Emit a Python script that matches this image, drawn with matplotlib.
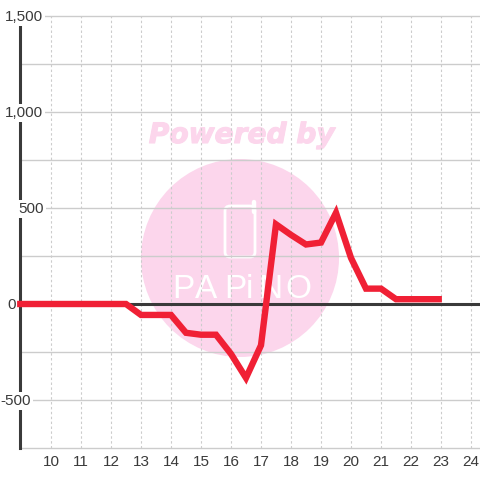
import matplotlib
matplotlib.use("Agg")
import matplotlib.pyplot as plt
import matplotlib.patheffects as pe
from matplotlib.patches import Circle, FancyBboxPatch

plt.rcParams['font.family'] = ['Liberation Sans', 'DejaVu Sans']

hours = [8.87, 9, 9.5, 10, 10.5, 11, 11.5, 12, 12.5, 13, 13.5, 14, 14.5, 15, 15.5, 16, 16.5,
         17, 17.5, 18, 18.5, 19, 19.5, 20, 20.5, 21, 21.5, 22, 22.5, 23.03]
values = [0, 0, 0, 0, 0, 0, 0, 0, 0, -57, -57, -57, -150, -160, -160, -260, -385,
          -215, 415, 360, 310, 320, 475, 240, 80, 80, 25, 25, 25, 25]
x_ticks = list(range(10, 25))
y_ticks = [-500, 0, 500, 1000, 1500]
y_minor = [-750, -250, 250, 750, 1250]
y_labels = ["-500", "0", "500", "1,000", "1,500"]
logo_letters = ["P", "A", "P", "i", "N", "O"]

# right edge of each y label in pixels, they do not line up in the reference
label_right = [31, 16, 44, 43, 43]
logo_x = [183, 206, 235, 249, 270, 298]

DARK = "#3a3a3a"
GRID = "#cccccc"
RED = "#f02035"
PINK = "#fcd6ec"

fig = plt.figure(figsize=(4.8, 4.8), dpi=100)

# watermark sits behind the chart, in pixel coordinates
bg = fig.add_axes([0, 0, 1, 1], zorder=0)
bg.set_xlim(0, 480)
bg.set_ylim(480, 0)
bg.axis("off")
bg.add_patch(Circle((240, 258), 99, color=PINK, lw=0))
bg.text(241.5, 135, "Powered by", color=PINK, fontsize=20.2, fontweight="bold", fontstyle="italic",
        family="DejaVu Sans", ha="center", va="center",
        path_effects=[pe.withStroke(linewidth=0.8, foreground=PINK)])
bg.add_patch(FancyBboxPatch((225, 206), 30, 51, boxstyle="round,pad=0,rounding_size=5",
                            fc="none", ec="white", lw=2.0))
bg.plot([254, 254], [202, 212], color="white", lw=3.2, solid_capstyle="round")
for x, letter in zip(logo_x, logo_letters):
    bg.text(x, 289, letter, color="white", fontsize=24, family="Liberation Sans",
            ha="center", va="center")

ax = fig.add_axes([20 / 480, 32 / 480, 460 / 480, 432 / 480], zorder=1)
ax.patch.set_visible(False)
ax.set_xlim(8.967, 24.3)
ax.set_ylim(-750, 1500)

for s in ["top", "right", "bottom"]:
    ax.spines[s].set_visible(False)
ax.spines["left"].set_linewidth(2.2)
ax.spines["left"].set_color(DARK)
ax.spines["left"].set_zorder(2)

ax.set_xticks(x_ticks)
ax.set_yticks(y_ticks)
ax.tick_params(axis="both", length=0, labelsize=11, labelcolor=DARK)
ax.tick_params(axis="x", pad=5)
ax.set_yticklabels([])
for y, lab, right in zip(y_ticks, y_labels, label_right):
    ax.annotate(lab, (0, y), xycoords=("axes fraction", "data"), xytext=(right - 20, -1),
                textcoords="offset pixels", ha="right", va="center", fontsize=11, color=DARK,
                zorder=4, annotation_clip=False, bbox=dict(fc="white", ec="none", pad=1.2))

ax.grid(axis="x", color=GRID, lw=0.8, ls=(0, (2.2, 2.2)), zorder=1)
for y in y_ticks + y_minor:
    if y != 0:
        ax.axhline(y, color=GRID, lw=1.0, zorder=1, clip_on=False)
ax.axhline(0, color=DARK, lw=2.2, zorder=2)
ax.plot(hours, values, color=RED, lw=4.6, solid_joinstyle="miter", solid_capstyle="butt",
        zorder=5, clip_on=False)

fig.savefig("out.png", dpi=100)
